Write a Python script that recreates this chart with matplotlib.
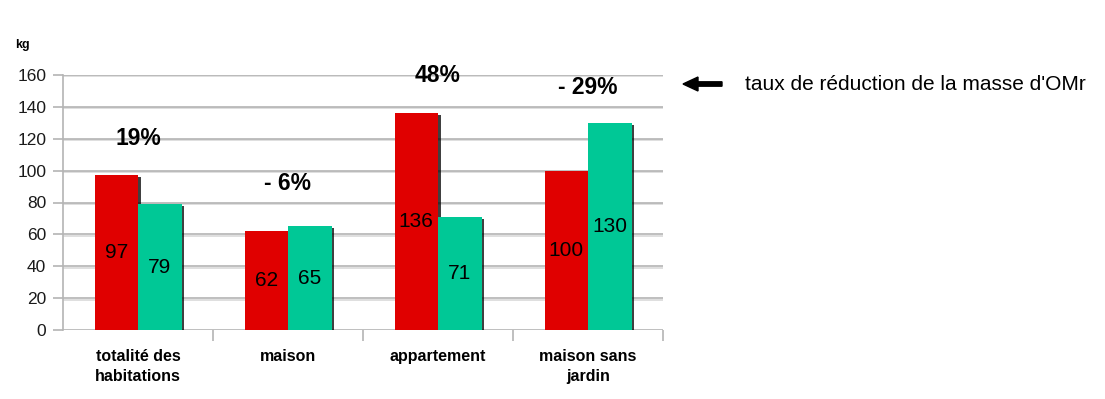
import numpy as np
import matplotlib.pyplot as plt
import matplotlib.patheffects as pe
from matplotlib.patches import FancyArrow

# données
categories = ['totalité des\nhabitations', 'maison', 'appartement', 'maison sans\njardin']
avant = [97, 62, 136, 100]
apres = [79, 65, 71, 130]
taux = ['19%', '- 6%', '48%', '- 29%']
taux_y = [120, 92, 160, 152]

ROUGE = '#e00000'
VERT = '#00c896'
POLICE = ['Liberation Sans', 'DejaVu Sans']

fig = plt.figure(figsize=(11.05, 3.99), dpi=100)
ax = fig.add_axes([63 / 1105, 1 - 330 / 399, 600 / 1105, 255 / 399])

x = np.arange(len(categories))
w = 0.29
ombre = [pe.SimplePatchShadow(offset=(2, -1.5), shadow_rgbFace='black', alpha=0.75), pe.Normal()]

ax.bar(x - w / 2, avant, w, color=ROUGE, zorder=3, path_effects=ombre)
ax.bar(x + w / 2, apres, w, color=VERT, zorder=3, path_effects=ombre)

for i in range(len(categories)):
    ax.text(x[i] - w / 2, avant[i] / 2, str(avant[i]), ha='center', va='center',
            fontsize=15, family=POLICE, zorder=4)
    ax.text(x[i] + w / 2, apres[i] / 2, str(apres[i]), ha='center', va='center',
            fontsize=15, family=POLICE, zorder=4)
    ax.text(x[i], taux_y[i], taux[i], ha='center', va='center', fontsize=16.5,
            fontweight='bold', family=POLICE, clip_on=False, zorder=5)

ax.set_xlim(-0.5, 3.5)
ax.set_ylim(0, 160)
ax.set_yticks(np.arange(0, 161, 20))
ax.set_yticklabels([str(v) for v in range(0, 161, 20)], family=POLICE,
                   fontsize=12.5, color='#1a1a1a')
ax.yaxis.grid(True, color='#b4b4b4', linewidth=1.2, zorder=0,
              path_effects=[pe.SimpleLineShadow(offset=(0.5, -1), alpha=0.15), pe.Normal()])
ax.tick_params(axis='y', length=7, color='#b4b4b4', width=1.2, pad=5)

ax.set_xticks(x)
ax.set_xticklabels(categories, family=POLICE, fontsize=11.5, fontweight='bold',
                   linespacing=1.4)
ax.set_xticks(np.arange(0.5, 3.6, 1), minor=True)
ax.tick_params(axis='x', which='major', length=0, pad=14)
ax.tick_params(axis='x', which='minor', length=8, color='#b4b4b4', width=1.2)

for s in ['top', 'right', 'bottom']:
    ax.spines[s].set_visible(False)
ax.spines['left'].set_color('#b4b4b4')
ax.spines['left'].set_linewidth(1.2)

fig.text(15 / 1105, 1 - 45 / 399, 'kg', fontsize=9, fontweight='bold',
         family=POLICE, va='center')

fig.patches.append(FancyArrow(
    722 / 1105, 1 - 84 / 399, -39 / 1105, 0, width=0.011, head_width=0.035,
    head_length=15 / 1105, length_includes_head=True, color='black',
    transform=fig.transFigure, figure=fig))
fig.text(745 / 1105, 1 - 84 / 399, "taux de réduction de la masse d'OMr",
         fontsize=15, family=POLICE, va='center')

fig.savefig('out.png', dpi=100)
